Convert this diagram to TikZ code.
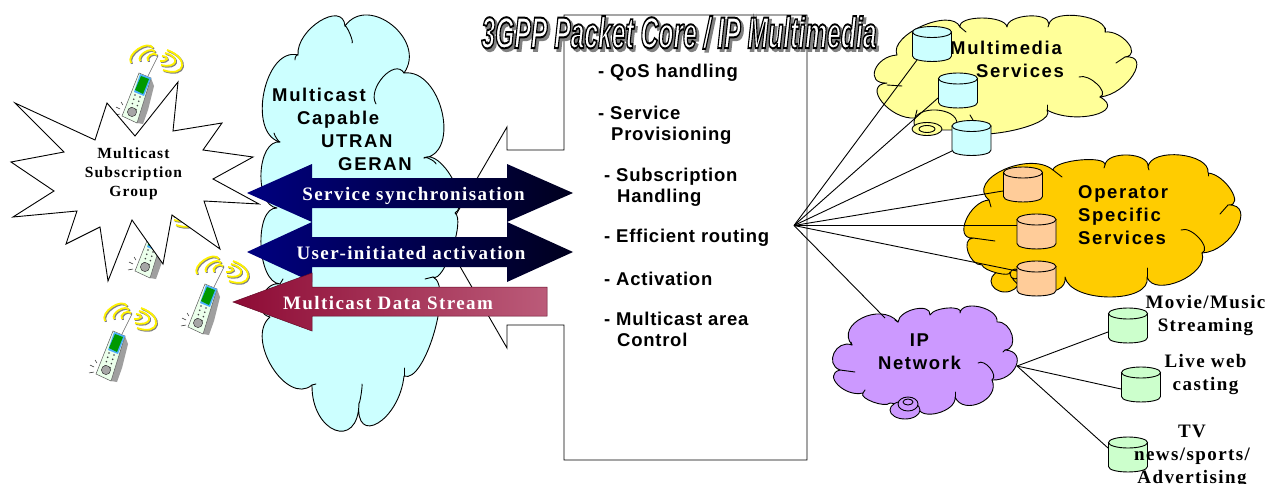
\documentclass[tikz,border=0pt]{standalone}
\usepackage{fontspec}
\usepackage{graphicx}
\usetikzlibrary{calc,shapes.geometric}
\newfontfamily\asb{Liberation Sans}[LetterSpace=4]
\newfontfamily\asw{Liberation Sans}[LetterSpace=9]
\newfontfamily\tsb{Liberation Serif}[LetterSpace=7.5]
\newfontfamily\ttl{Liberation Sans}
\definecolor{cyanf}{HTML}{CCFFFF}
\definecolor{yelf}{HTML}{FFFF99}
\definecolor{orgf}{HTML}{FFCC00}
\definecolor{purf}{HTML}{CC99FF}
\definecolor{peach}{HTML}{FFCC99}
\definecolor{mint}{HTML}{CCFFCC}
\definecolor{navyl}{HTML}{000080}
\definecolor{navyr}{HTML}{00001E}
\definecolor{redl}{HTML}{8E0B35}
\definecolor{redr}{HTML}{BB5B79}
% lobe through a peak point: start x,y  peak x,y  end x,y
\def\lb#1#2#3#4#5#6{.. controls ({#1+(4/3)*(#3-(#1+#5)/2)},{#2+(4/3)*(#4-(#2+#6)/2)}) and ({#5+(4/3)*(#3-(#1+#5)/2)},{#6+(4/3)*(#4-(#2+#6)/2)}) .. (#5,#6)}
\newcommand\cylnode[3]{%
 \node[rectangle,minimum width=39pt,minimum height=35pt,inner sep=0pt,outer sep=0pt] (#1) at (#2) {};
 \draw[link,fill=#3,line join=round] ($(#1.north west)+(0,5.5)$) -- ($(#1.south west)+(0,-5.5)$) .. controls +(0,7.3) and +(0,7.3) .. ($(#1.south east)+(0,-5.5)$) -- ($(#1.north east)+(0,5.5)$) -- cycle;
 \draw[link,fill=#3] ($(#1.north)+(0,5.5)$) ellipse [x radius=19.5pt,y radius=5.5pt];
}
\tikzset{
 cloudline/.style={draw=black,line width=0.9pt,line join=round},
 crease/.style={draw=black,line width=0.9pt,line cap=round},
 link/.style={draw=black,line width=0.9pt},
 sanslabel/.style={inner sep=0pt,align=left,font=\asb\bfseries\fontsize{18.5}{21}\selectfont},
 widelabel/.style={inner sep=0pt,align=left,font=\asw\bfseries\fontsize{18.5}{23}\selectfont},
 seriflabel/.style={inner sep=0pt,align=center,font=\tsb\bfseries\fontsize{19}{23}\selectfont},
 arrowlabel/.style={inner sep=0pt,anchor=base,text=white,font=\tsb\bfseries\fontsize{19}{22}\selectfont},
 phone/.pic={
  \foreach \dx/\dy/\c/\w in {0.9/0.9/gray/2,0/0/yellow/1.8}{
   \begin{scope}[shift={(\dx,\dy)}]
   \draw[draw=\c,line width=\w pt] (-25,5) \lb{-25}{5}{-18}{-9}{-3}{-10};
   \draw[draw=\c,line width=\w pt] (-16,3) \lb{-16}{3}{-11}{-6}{-1}{-6};
   \draw[draw=\c,line width=\w pt] (-8,3) \lb{-8}{3}{-6}{-3}{1}{-3};
   \draw[draw=\c,line width=\w pt] (7,12) \lb{7}{12}{26}{8}{11}{-8};
   \draw[draw=\c,line width=\w pt] (5,7) \lb{5}{7}{19}{4}{9}{-5};
   \draw[draw=\c,line width=\w pt] (4,3) \lb{4}{3}{11}{1}{6}{-2};
   \end{scope}}
  \draw[gray!80!black,line width=0.6pt] (2,-2) -- (-8,18);
  \fill[gray!75] (-5,20) -- (-2,28) -- (-8,52) -- (-13,66) -- (-19,65) -- cycle;
  \fill[green!8!white] (-17,15) -- (-5,20) -- (-19,65) -- (-34,58) -- cycle;
  \draw[gray!70!black,line width=0.5pt] (-17,15) -- (-5,20) -- (-19,65) -- (-34,58) -- cycle;
  \fill[blue!45!cyan!70!white] (-16,16) -- (-5,20) -- (-12,38) -- (-22,34) -- cycle;
  \fill[green!60!black] (-15,18) -- (-7,21) -- (-13,36) -- (-21,32) -- cycle;
  \foreach \t in {0,1,2,3}{
   \fill[black!75] ({-21-1.3*\t},{37+4.3*\t}) circle (0.9pt);
   \fill[black!75] ({-16-1.3*\t},{39+4.3*\t}) circle (0.9pt);}
  \fill[gray!70] (-24,54) circle (4.6pt);
  \draw[gray!30!black,line width=0.4pt] (-24,54) circle (4.6pt);
  \draw[gray!30!black,line width=0.5pt] (-33,47) -- (-35,44) (-36,51) -- (-40,49) (-36,56) -- (-41,57);
 }
}
\begin{document}
\begin{tikzpicture}[x=1pt,y=-1pt]
\useasboundingbox (0,0) rectangle (1268,484);
% phones
\pic at (156,58) {phone};
\pic at (169,213) {phone};
\pic at (222,269) {phone};
\pic at (130,316) {phone};
% star
\draw[fill=white,draw=black,line width=0.9pt,line join=miter]
 (15,103) -- (95,140) -- (107,103) -- (135,136) -- (178,82) -- (173,131) -- (222,123) -- (203,150) -- (253,157) -- (213,179) -- (259,204) -- (204,201) -- (220,249) -- (172,215) -- (163,264) -- (132,220) -- (108,281) -- (100,227) -- (66,244) -- (77,211) -- (13,217) -- (54,191) -- (11,162) -- (64,152) -- cycle;
\node[seriflabel,font=\tsb\bfseries\fontsize{15.5}{19}\selectfont] (grp) at (133.5,174) {Multicast\\Subscription\\Group};
% callout box
\draw[fill=white,draw=black,line width=0.9pt] (564,15) -- (807,15) -- (807,460) -- (564,460) -- (564,325) -- (507,325) -- (507,348) -- (443,237) -- (507,127) -- (507,150) -- (564,150) -- cycle;
% cloud 1
\draw[cloudline,fill=cyanf] (298,55) \lb{298}{55}{320}{21}{345}{26} \lb{345}{26}{392}{25}{404}{73} \lb{404}{73}{442}{112}{424}{158} \lb{424}{158}{452}{178}{455}{213} \lb{455}{213}{452}{250}{433}{277} \lb{433}{277}{434}{333}{404}{376} \lb{404}{376}{378}{423}{359}{403} \lb{359}{403}{335}{430}{312}{385} \lb{312}{385}{272}{367}{270}{317} \lb{270}{317}{262}{298}{280}{284} \lb{280}{284}{261}{245}{277}{208} \lb{277}{208}{261}{173}{280}{142} \lb{280}{142}{264}{92}{298}{55} -- cycle;
\draw[crease] (345,26) \lb{345}{26}{350}{34}{352}{43};
\draw[crease] (404,73) \lb{404}{73}{383}{77}{376}{104};
\draw[crease] (424,158) \lb{424}{158}{430}{159}{436}{164};
\draw[crease] (280,142) \lb{280}{142}{277}{139}{274}{133};
\draw[crease] (298,55) \lb{298}{55}{296}{56}{295}{60};
\draw[crease] (433,277) -- (425,279);
\draw[crease] (404,376) -- (404,368);
\draw[crease] (359,403) \lb{359}{403}{361}{395}{362}{384};
\draw[crease] (312,385) -- (316,384);
\draw[crease] (280,284) -- (283,279);
% yellow cloud
\draw[cloudline,fill=yelf] (897,55) \lb{897}{55}{922}{26}{960}{27} \lb{960}{27}{982}{18}{1007}{27} \lb{1007}{27}{1028}{16}{1049}{24} \lb{1049}{24}{1080}{16}{1105}{32} \lb{1105}{32}{1128}{43}{1125}{57} \lb{1125}{57}{1133}{75}{1100}{97} \lb{1100}{97}{1094}{115}{1047}{110} \lb{1047}{110}{1010}{131}{957}{128} -- (915,118) \lb{915}{118}{882}{102}{887}{83} \lb{887}{83}{875}{70}{897}{55} -- cycle;
\draw[crease] (1079,77) \lb{1079}{77}{1097}{84}{1100}{97};
\draw[crease] (1125,57) -- (1116,63);
\draw[crease] (887,85) -- (902,86);
\draw[crease] (960,27) -- (966,32);
\draw[crease] (1049,24) -- (1048,27);
\draw[crease] (1105,32) -- (1105,28);
\draw[crease] (1047,110) -- (1047,105);
\draw[crease] (970,115) -- (973,120);
\draw[crease] (915,118) -- (917,110);
\draw[cloudline,fill=yelf] (957,124) \lb{957}{124}{936}{110}{914}{122} -- (915,130) -- (957,130) -- cycle;
\draw[cloudline,fill=yelf] (927,129) ellipse [x radius=15pt,y radius=6.5pt];
\draw[cloudline,fill=yelf] (927,129) ellipse [x radius=8pt,y radius=3.5pt];
% orange cloud
\draw[cloudline,fill=orgf] (1005,281) ellipse [x radius=14pt,y radius=11pt];
\draw[cloudline,fill=orgf] (989,200) \lb{989}{200}{1003}{170}{1053}{170} \lb{1053}{170}{1080}{160}{1105}{165} \lb{1105}{165}{1128}{155}{1148}{167} \lb{1148}{167}{1180}{155}{1208}{173} \lb{1208}{173}{1231}{190}{1228}{205} \lb{1228}{205}{1237}{228}{1202}{253} \lb{1202}{253}{1180}{281}{1147}{277} \lb{1147}{277}{1110}{297}{1065}{277} \lb{1065}{277}{1040}{292}{1010}{272} \lb{1010}{272}{997}{273}{982}{265} \lb{982}{265}{968}{252}{973}{238} \lb{973}{238}{966}{220}{989}{200} -- cycle;
\draw[crease] (1053,170) -- (1062,177);
\draw[crease] (1228,205) -- (1220,214);
\draw[crease] (1181,230) \lb{1181}{230}{1199}{238}{1202}{253};
\draw[crease] (1147,277) -- (1147,268);
\draw[crease] (973,238) -- (995,241);
\draw[crease] (989,200) -- (991,207);
\draw[crease] (1105,165) -- (1104,168);
\draw[crease] (1148,167) -- (1149,170);
\draw[crease] (1208,173) -- (1208,176);
\draw[cloudline,fill=orgf] (1015,274) ellipse [x radius=5pt,y radius=5pt];
% purple cloud
\draw[cloudline,fill=purf] (852,345) \lb{852}{345}{862}{318}{898}{322} \lb{898}{322}{915}{309}{930}{315} \lb{930}{315}{948}{308}{960}{313} \lb{960}{313}{980}{307}{997}{322} \lb{997}{322}{1012}{335}{1005}{350} \lb{1005}{350}{1016}{366}{992}{380} \lb{992}{380}{980}{403}{955}{397} \lb{955}{397}{938}{413}{918}{407} -- (890,403) \lb{890}{403}{873}{402}{863}{393} \lb{863}{393}{838}{385}{840}{370} \lb{840}{370}{834}{353}{852}{345} -- cycle;
\draw[crease] (978,363) \lb{978}{363}{990}{368}{992}{380};
\draw[crease] (840,370) -- (855,372);
\draw[crease] (852,345) -- (851,342);
\draw[crease] (898,322) -- (895,320);
\draw[crease] (1005,350) -- (1003,352);
\draw[crease] (955,397) -- (955,392);
\draw[crease] (863,393) -- (865,390);
\draw[cloudline,fill=purf] (905,410) ellipse [x radius=15pt,y radius=9pt];
\draw[cloudline,fill=purf] (908,404) ellipse [x radius=10pt,y radius=7pt];
\draw[cloudline,fill=purf] (908,402) ellipse [x radius=5pt,y radius=3pt];
% hubs
\coordinate (hub) at (794,225.5);
\coordinate (iphub) at (1017,366);
\coordinate (ipedge) at (885,318);
\coordinate (c1p) at (932,44);
\coordinate (c2p) at (958,90.5);
\coordinate (c3p) at (971.5,138);
\coordinate (o1p) at (1023,184.5);
\coordinate (o2p) at (1036.5,231.5);
\coordinate (o3p) at (1036.5,278.5);
\coordinate (g1p) at (1128,325.5);
\coordinate (g2p) at (1141,384.5);
\coordinate (g3p) at (1128,454.5);
\cylnode{c1}{c1p}{cyanf}
\cylnode{c2}{c2p}{cyanf}
\cylnode{c3}{c3p}{cyanf}
\cylnode{o1}{o1p}{peach}
\cylnode{o2}{o2p}{peach}
\cylnode{o3}{o3p}{peach}
\cylnode{g1}{g1p}{mint}
\cylnode{g2}{g2p}{mint}
\cylnode{g3}{g3p}{mint}
\draw[link] (hub) -- ($(c1.center)+(-15,16)$);
\draw[link] (hub) -- ($(c2.center)+(-20,7.5)$);
\draw[link] (hub) -- ($(c3.center)+(-19.5,13)$);
\draw[link] (hub) -- ($(o1.center)+(-20,6.5)$);
\draw[link] (hub) -- ($(o2.center)+(-19.5,-6)$);
\draw[link] (hub) -- ($(o3.center)+(-19.5,-7.5)$);
\draw[link] (hub) -- (ipedge);
\draw[link] (iphub) -- ($(g1.center)+(-20,6.5)$);
\draw[link] (iphub) -- ($(g2.center)+(-20,4.5)$);
\draw[link] (iphub) -- ($(g3.center)+(-20,-6.5)$);
% arrows
\path[left color=navyl,right color=navyr] (247,193) -- (312,164) -- (312,178) -- (507,178) -- (507,164) -- (573,193) -- (507,222) -- (507,208) -- (312,208) -- (312,222) -- cycle;
\path[left color=navyl,right color=navyr] (247,252) -- (312,222) -- (312,237) -- (507,237) -- (507,222) -- (573,252) -- (507,282) -- (507,267) -- (312,267) -- (312,282) -- cycle;
\path[draw=redl!70!black,line width=0.5pt,left color=redl,right color=redr] (233,302) -- (312,273) -- (312,287) -- (547,287) -- (547,316) -- (312,316) -- (312,331) -- cycle;
\node[arrowlabel] (a1) at (413.5,200) {Service synchronisation};
\node[arrowlabel] (a2) at (411,259) {User-initiated activation};
\node[arrowlabel] (a3) at (388,309) {Multicast Data Stream};
% cloud label
\node[widelabel,anchor=north west] (utran) at (272,88) {Multicast\\\hspace*{25pt}Capable\\\hspace*{49pt}UTRAN\\\hspace*{66pt}GERAN};
% box items
\node[sanslabel,anchor=west] (q1) at (598,73) {- QoS handling};
\node[sanslabel,anchor=north west] (q2) at (598,106) {- Service\\\hspace*{13pt}Provisioning};
\node[sanslabel,anchor=north west] (q3) at (604,168) {- Subscription\\\hspace*{13pt}Handling};
\node[sanslabel,anchor=west] (q4) at (604,238) {- Efficient routing};
\node[sanslabel,anchor=west] (q5) at (604,278.5) {- Activation};
\node[sanslabel,anchor=north west] (q6) at (604,312) {- Multicast area\\\hspace*{13pt}Control};
% service labels
\node[widelabel,anchor=north west] (mm) at (950,41) {Multimedia\\\hspace*{26pt}Services};
\node[widelabel,anchor=north west] (op) at (1078,185) {Operator\\Specific\\Services};
\node[widelabel,align=center] (ip) at (919.5,352) {IP\\Network};
\node[seriflabel] (s1) at (1205.5,316) {Movie/Music\\Streaming};
\node[seriflabel] (s2) at (1205.5,375) {Live web\\casting};
\node[seriflabel] (s3) at (1192,456) {TV\\news/sports/\\Advertising};
% title
\node[inner sep=0pt,text=gray] (titleshadow) at (681.5,35) {\resizebox{395pt}{32pt}{\ttl\bfseries\itshape\special{pdf:code 2 Tr 0.55 w 0.5 0.5 0.5 RG}3GPP Packet Core / IP Multimedia}};
\node[inner sep=0pt,text=white] (title) at (679,32.5) {\resizebox{395pt}{32pt}{\ttl\bfseries\itshape\special{pdf:code 2 Tr 0.45 w 0 0 0 RG}3GPP Packet Core / IP Multimedia}};
\end{tikzpicture}
\end{document}
